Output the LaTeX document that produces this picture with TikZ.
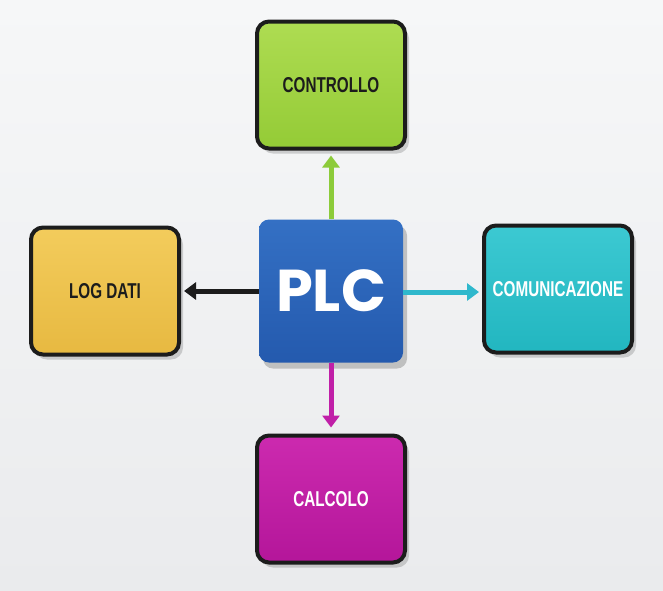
\documentclass[tikz,border=0pt]{standalone}
\usepackage{fontspec}
\usetikzlibrary{arrows.meta,shadows}
\newfontfamily\condfont[FakeStretch=0.71]{Liberation Sans}
\newfontfamily\plcfont{Poppins}
\definecolor{bgA}{HTML}{F6F7F8}
\definecolor{bgB}{HTML}{EAEBED}
\definecolor{greenA}{HTML}{AEDC52}
\definecolor{greenB}{HTML}{94CB36}
\definecolor{yellowA}{HTML}{F3CC5C}
\definecolor{yellowB}{HTML}{E7B941}
\definecolor{blueA}{HTML}{3470C4}
\definecolor{blueB}{HTML}{245AAE}
\definecolor{tealA}{HTML}{3CC9D2}
\definecolor{tealB}{HTML}{22B6C0}
\definecolor{magA}{HTML}{CC2AAF}
\definecolor{magB}{HTML}{B4169A}
\definecolor{frame}{HTML}{1C1C1C}
\definecolor{greenArr}{HTML}{8CCB3A}
\definecolor{tealArr}{HTML}{2FB8CC}
\definecolor{magArr}{HTML}{C01FA8}
\tikzset{
  funcbox/.style={draw=frame, line width=4pt, rounded corners=12pt,
    minimum width=148pt, minimum height=127pt, inner sep=0pt,
    font=\condfont\bfseries\fontsize{21.5}{25}\selectfont,
    drop shadow={shadow xshift=4pt, shadow yshift=-5pt, opacity=0.16, fill=black}},
  plcbox/.style={rounded corners=10pt, minimum width=144pt, minimum height=143pt,
    inner sep=0pt, top color=blueA, bottom color=blueB, text=white,
    font=\plcfont\bfseries\fontsize{59}{63}\selectfont,
    drop shadow={shadow xshift=4pt, shadow yshift=-6pt, opacity=0.2, fill=black}},
  conn/.style={line width=5pt, -{Triangle[width=17pt,length=12pt]}}
}
\begin{document}
\begin{tikzpicture}[x=1pt,y=-1pt]
\useasboundingbox (0,0) rectangle (663,590);
\shade[top color=bgA, bottom color=bgB] (0,0) rectangle (663,590);
\node[funcbox, top color=greenA, bottom color=greenB, text=frame] (ctrl) at (331,85) {CONTROLLO};
\node[funcbox, top color=yellowA, bottom color=yellowB, text=frame] (log) at (105,291) {LOG DATI};
\node[funcbox, top color=tealA, bottom color=tealB, text=white] (com) at (558,289) {COMUNICAZIONE};
\node[funcbox, top color=magA, bottom color=magB, text=white] (calc) at (331,499) {CALCOLO};
\node[plcbox] (plc) at (331,291) {PLC};
\draw[conn, draw=greenArr, fill=greenArr] (plc.north) -- ([yshift=-5pt]ctrl.south);
\draw[conn, draw=frame, fill=frame] (plc.west) -- ([xshift=3pt]log.east);
\draw[conn, draw=tealArr, fill=tealArr] ([yshift=-1pt]plc.east) -- ([xshift=-3pt,yshift=-3pt]com.west);
\draw[conn, draw=magArr, fill=magArr] (plc.south) -- ([yshift=6pt]calc.north);
\end{tikzpicture}
\end{document}
